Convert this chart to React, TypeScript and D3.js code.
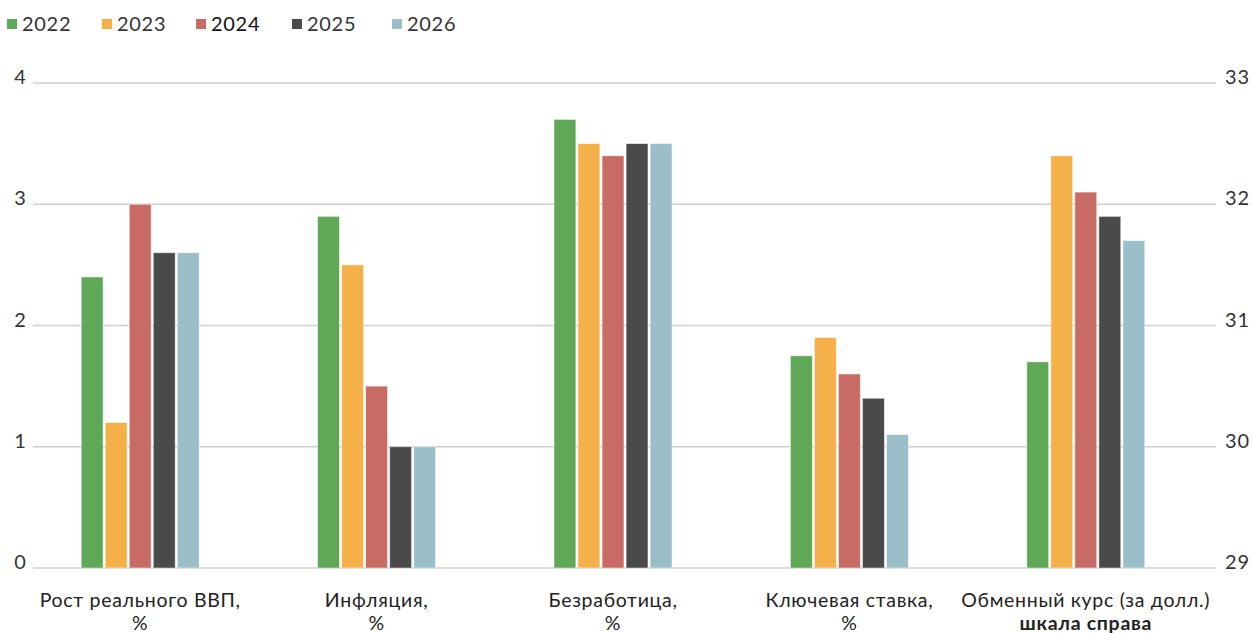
import React from "react";
import * as d3 from "d3";

const categories = ["Рост реального ВВП,|%", "Инфляция,|%", "Безработица,|%", "Ключевая ставка,|%", "Обменный курс (за долл.)|шкала справа"];
const years = ["2022", "2023", "2024", "2025", "2026"];
const colors = ["#5ea857", "#f5b04a", "#c86b64", "#4a4a4a", "#9bbfc9"];
const values2022 = [2.4, 2.9, 3.7, 1.75, 30.7];
const values2023 = [1.2, 2.5, 3.5, 1.9, 32.4];
const values2024 = [3.0, 1.5, 3.4, 1.6, 32.1];
const values2025 = [2.6, 1.0, 3.5, 1.4, 31.9];
const values2026 = [2.6, 1.0, 3.5, 1.1, 31.7];
const leftTicks = [0, 1, 2, 3, 4];
const rightTicks = [29, 30, 31, 32, 33];
const series = [values2022, values2023, values2024, values2025, values2026];

const W = 1253, H = 633;
const FONT = "Lato, 'Noto Sans', sans-serif";

export default function App() {
  const x0 = d3.scaleBand<number>().domain(d3.range(categories.length)).range([22, 1204]);
  const x1 = d3.scaleBand<number>().domain(d3.range(years.length)).range([-59, 59]).paddingInner(0.09);
  const yL = d3.scaleLinear().domain([0, 4]).range([568, 83]);
  const yR = d3.scaleLinear().domain([29, 33]).range([568, 83]);
  const legendX = [7, 102, 196, 292, 392];

  return (
    <svg width={W} height={H} style={{ position: "absolute", left: 0, top: 0, background: "#fff" }} fontFamily={FONT}>
      {leftTicks.map((t) => (
        <g key={"l" + t}>
          <line x1={33} x2={1216} y1={yL(t)} y2={yL(t)} stroke="#cfcfcf" strokeWidth={1.5} />
          <text x={20} y={yL(t)} dy="0.05em" textAnchor="middle" fontSize={20} fill="#333">{t}</text>
        </g>
      ))}
      {rightTicks.map((t) => (
        <text key={"r" + t} x={1225} y={yR(t)} dy="0.05em" fontSize={20} letterSpacing={0.8} fill="#333">{t}</text>
      ))}
      {categories.map((c, ci) => {
        const cx = (x0(ci) as number) + x0.bandwidth() / 2;
        const y = ci === 4 ? yR : yL;
        return (
          <g key={c}>
            {series.map((s, si) => (
              <rect key={si} x={cx + (x1(si) as number)} width={x1.bandwidth()} y={y(s[ci])}
                height={568 - y(s[ci])} fill={colors[si]} stroke="#fff" strokeOpacity={0.6} strokeWidth={0.8} />
            ))}
            {c.split("|").map((line, li) => (
              <text key={li} x={cx} y={607 + li * 23} textAnchor="middle" fontSize={19.5} letterSpacing={0.7}
                fill="#222" fontWeight={ci === 4 && li === 1 ? 700 : 400}>{line}</text>
            ))}
          </g>
        );
      })}
      {years.map((yr, i) => (
        <g key={yr}>
          <rect x={legendX[i]} y={19} width={10} height={10} fill={colors[i]} />
          <text x={legendX[i] + 15} y={31} fontSize={20} letterSpacing={0.7} fill={i === 2 ? "#111" : "#333"}>{yr}</text>
        </g>
      ))}
    </svg>
  );
}
